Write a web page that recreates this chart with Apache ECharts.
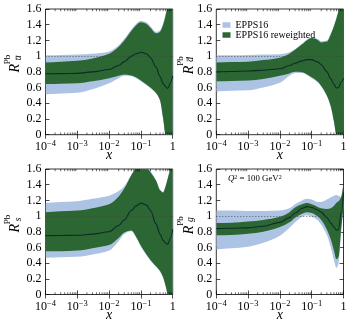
<!DOCTYPE html>
<html>
<head>
<meta charset="utf-8">
<script src="https://cdn.jsdelivr.net/npm/echarts@6/dist/echarts.min.js"></script>
<style>
  html, body { margin: 0; padding: 0; background: #fff; }
  #chart { width: 353px; height: 325px; }
</style>
</head>
<body>
<div id="chart"></div>
<script>
// x grid (log) shared by every curve
const xs = [1e-4, 3e-4, 1e-3, 3e-3, 0.01, 0.02, 0.03, 0.05, 0.07, 0.1, 0.15, 0.2, 0.3, 0.4, 0.5, 0.6, 0.7, 0.85, 1.0];

// u-bar
const ubarCentral = [0.775, 0.777, 0.78, 0.80, 0.83, 0.88, 0.93, 1.0, 1.03, 1.05, 1.03, 0.98, 0.86, 0.74, 0.65, 0.61, 0.59, 0.66, 0.75];
const ubarRwUp = [0.92, 0.93, 0.94, 0.97, 1.03, 1.12, 1.2, 1.32, 1.39, 1.43, 1.41, 1.36, 1.29, 1.31, 1.40, 1.52, 1.65, 2.0, 2.3];
const ubarRwLo = [0.645, 0.648, 0.655, 0.68, 0.72, 0.75, 0.765, 0.755, 0.73, 0.69, 0.64, 0.6, 0.53, 0.44, 0.21, 0, 0, 0, 0];
const ubarUp = [1.01, 1.015, 1.02, 1.03, 1.06, 1.14, 1.22, 1.34, 1.41, 1.45, 1.43, 1.38, 1.31, 1.33, 1.42, 1.54, 1.67, 2.0, 2.3];
const ubarLo = [0.515, 0.525, 0.535, 0.58, 0.655, 0.72, 0.75, 0.745, 0.72, 0.68, 0.63, 0.59, 0.52, 0.43, 0.2, 0, 0, 0, 0];

// d-bar
const dbarCentral = [0.80, 0.805, 0.81, 0.82, 0.84, 0.88, 0.91, 0.94, 0.955, 0.955, 0.93, 0.89, 0.80, 0.71, 0.64, 0.595, 0.60, 0.67, 0.72];
const dbarRwUp = [0.92, 0.925, 0.93, 0.95, 0.98, 1.03, 1.08, 1.15, 1.2, 1.23, 1.21, 1.175, 1.185, 1.28, 1.38, 1.48, 1.58, 1.8, 2.1];
const dbarRwLo = [0.68, 0.685, 0.69, 0.71, 0.75, 0.78, 0.80, 0.795, 0.77, 0.73, 0.68, 0.62, 0.5, 0.36, 0.17, 0, 0, 0, 0];
const dbarUp = [1.01, 1.012, 1.015, 1.02, 1.025, 1.05, 1.09, 1.16, 1.21, 1.24, 1.22, 1.19, 1.2, 1.29, 1.39, 1.49, 1.59, 1.8, 2.1];
const dbarLo = [0.55, 0.56, 0.565, 0.6, 0.66, 0.75, 0.785, 0.785, 0.76, 0.72, 0.67, 0.61, 0.49, 0.35, 0.16, 0, 0, 0, 0];

// s
const sCentral = [0.75, 0.752, 0.755, 0.77, 0.80, 0.88, 0.95, 1.07, 1.13, 1.165, 1.14, 1.07, 0.90, 0.77, 0.69, 0.655, 0.64, 0.72, 0.83];
const sRwUp = [1.05, 1.06, 1.07, 1.1, 1.15, 1.25, 1.35, 1.52, 1.61, 1.66, 1.62, 1.56, 1.45, 1.33, 1.30, 1.38, 1.48, 1.62, 1.9];
const sRwLo = [0.55, 0.552, 0.56, 0.59, 0.63, 0.72, 0.79, 0.815, 0.74, 0.62, 0.51, 0.44, 0.36, 0.3, 0.22, 0.11, 0.01, 0, 0];
const sUp = [1.17, 1.18, 1.19, 1.22, 1.26, 1.32, 1.38, 1.53, 1.62, 1.67, 1.63, 1.57, 1.46, 1.34, 1.31, 1.39, 1.49, 1.63, 1.9];
const sLo = [0.47, 0.475, 0.48, 0.51, 0.56, 0.68, 0.77, 0.805, 0.73, 0.61, 0.5, 0.43, 0.35, 0.29, 0.21, 0.1, 0, 0, 0];

// g
const gCentral = [0.84, 0.845, 0.85, 0.87, 0.92, 0.98, 1.04, 1.1, 1.12, 1.11, 1.08, 1.05, 0.98, 0.91, 0.86, 0.82, 0.83, 1.05, 1.3];
const gRwUp = [0.91, 0.915, 0.93, 0.95, 0.99, 1.05, 1.11, 1.15, 1.165, 1.15, 1.12, 1.1, 1.09, 1.1, 1.13, 1.17, 1.19, 1.25, 1.42];
const gRwLo = [0.755, 0.76, 0.775, 0.8, 0.86, 0.92, 0.98, 1.03, 1.05, 1.04, 1.0, 0.95, 0.83, 0.7, 0.56, 0.45, 0.48, 0.85, 1.12];
const gUp = [1.07, 1.07, 1.065, 1.065, 1.07, 1.1, 1.15, 1.2, 1.22, 1.21, 1.18, 1.18, 1.21, 1.24, 1.26, 1.27, 1.26, 1.24, 1.2];
const gLo = [0.575, 0.59, 0.61, 0.66, 0.75, 0.85, 0.92, 0.99, 1.01, 0.99, 0.95, 0.89, 0.76, 0.6, 0.44, 0.34, 0.4, 0.8, 1.1];

// axis ticks
const decades = [1e-4, 1e-3, 1e-2, 1e-1];
const minorMults = [2, 3, 4, 5, 6, 7, 8, 9];
const yTicks = { min: 0, max: 1.6, interval: 0.2 };

const serif = '"Liberation Serif", "DejaVu Serif", serif';
const blue = '#adc3e3';
const green = '#2b6633';
const lineCol = '#0f2a2a';

const panels = [
  { c: ubarCentral, gu: ubarRwUp, gl: ubarRwLo, bu: ubarUp, bl: ubarLo },
  { c: dbarCentral, gu: dbarRwUp, gl: dbarRwLo, bu: dbarUp, bl: dbarLo },
  { c: sCentral, gu: sRwUp, gl: sRwLo, bu: sUp, bl: sLo },
  { c: gCentral, gu: gRwUp, gl: gRwLo, bu: gUp, bl: gLo },
];

const grids = [
  { left: 45.5, top: 9, width: 127.2, height: 125.7 },
  { left: 216.3, top: 9, width: 127.2, height: 125.7 },
  { left: 45.5, top: 169, width: 127.2, height: 125.5 },
  { left: 216.3, top: 169, width: 127.2, height: 125.5 },
];

const minorTicks = [];
decades.forEach(d => minorMults.forEach(m => minorTicks.push([d * m, 0])));

function pow10Label(v) {
  const e = Math.round(Math.log10(v));
  if (e === 0) return '{a|1}';
  return '{a|10}{b|' + (e < 0 ? '\u2212' : '') + Math.abs(e) + '}';
}

// monotone cubic (Fritsch-Carlson) through pixel points, as svg path commands
function monoPath(P, start) {
  const n = P.length, dx = [], m = [], t = [];
  for (let i = 0; i < n - 1; i++) {
    dx[i] = P[i + 1][0] - P[i][0];
    m[i] = (P[i + 1][1] - P[i][1]) / dx[i];
  }
  t[0] = m[0];
  t[n - 1] = m[n - 2];
  for (let i = 1; i < n - 1; i++) {
    if (m[i - 1] * m[i] <= 0) t[i] = 0;
    else {
      const w1 = 2 * dx[i] + dx[i - 1], w2 = dx[i] + 2 * dx[i - 1];
      t[i] = (w1 + w2) / (w1 / m[i - 1] + w2 / m[i]);
    }
  }
  let s = start + P[0][0] + ' ' + P[0][1];
  for (let i = 0; i < n - 1; i++) {
    const h = dx[i] / 3;
    s += ' C' + (P[i][0] + h) + ' ' + (P[i][1] + t[i] * h) + ' ' +
      (P[i + 1][0] - h) + ' ' + (P[i + 1][1] - t[i + 1] * h) + ' ' +
      P[i + 1][0] + ' ' + P[i + 1][1];
  }
  return s;
}

function bandSeries(name, color, lo, hi, xa, ya) {
  return {
    type: 'custom', name, xAxisIndex: xa, yAxisIndex: ya, silent: true,
    itemStyle: { color },
    data: xs.map((x, k) => [x, lo[k], hi[k]]),
    encode: { x: 0, y: [1, 2] },
    renderItem(params, api) {
      if (params.dataIndexInside !== 0) return null;
      const n = params.dataInsideLength;
      const up = [], dn = [];
      for (let k = 0; k < n; k++) {
        up.push(api.coord([api.value(0, k), api.value(2, k)]));
        dn.push(api.coord([api.value(0, k), api.value(1, k)]));
      }
      dn.reverse();
      const cs = params.coordSys;
      return {
        type: 'path',
        shape: { pathData: monoPath(up, 'M') + ' ' + monoPath(dn, 'L') + ' Z' },
        style: { fill: color, stroke: null },
        clipPath: { type: 'rect', shape: { x: cs.x, y: cs.y, width: cs.width, height: cs.height } },
      };
    },
  };
}

const tickStyle = { color: '#000', width: 0.7 };
const xAxes = [], yAxes = [], series = [];

grids.forEach((g, i) => {
  xAxes.push({
    type: 'log', logBase: 10, gridIndex: i, min: 1e-4, max: 1,
    axisLine: { show: false },
    axisTick: { inside: true, length: 4, lineStyle: tickStyle },
    splitLine: { show: false },
    axisLabel: {
      margin: 5, showMinLabel: true, showMaxLabel: true,
      formatter: pow10Label,
      rich: {
        a: { fontFamily: serif, fontSize: 12, color: '#000', lineHeight: 14 },
        b: { fontFamily: serif, fontSize: 8.5, color: '#000', lineHeight: 8, verticalAlign: 'top' },
      },
    },
    name: 'x', nameLocation: 'middle', nameGap: 14, nameMoveOverlap: false,
    nameTextStyle: { fontFamily: serif, fontStyle: 'italic', fontSize: 14, color: '#000' },
  });
  xAxes.push({
    type: 'log', logBase: 10, gridIndex: i, min: 1e-4, max: 1, position: 'top',
    axisLine: { show: false },
    axisTick: { inside: true, length: 4, lineStyle: tickStyle },
    splitLine: { show: false },
    axisLabel: { show: false },
  });
  yAxes.push({
    type: 'value', gridIndex: i, min: yTicks.min, max: yTicks.max, interval: yTicks.interval,
    axisLine: { show: false },
    axisTick: { inside: true, length: 4, lineStyle: tickStyle },
    splitLine: { show: false },
    axisLabel: { margin: 4, fontFamily: serif, fontSize: 12, color: '#000', showMinLabel: true, showMaxLabel: true },
  });
  yAxes.push({
    type: 'value', gridIndex: i, min: yTicks.min, max: yTicks.max, interval: yTicks.interval, position: 'right',
    axisLine: { show: false },
    axisTick: { inside: true, length: 4, lineStyle: tickStyle },
    splitLine: { show: false },
    axisLabel: { show: false },
  });

  const p = panels[i];
  const xa = 2 * i, ya = 2 * i;
  series.push(bandSeries('EPPS16', blue, p.bl, p.bu, xa, ya));
  series.push(bandSeries('EPPS16 reweighted', green, p.gl, p.gu, xa, ya));
  series.push({
    type: 'line', xAxisIndex: xa, yAxisIndex: ya, symbol: 'none', silent: true,
    smooth: 0.35, smoothMonotone: 'x',
    data: xs.map((x, k) => [x, p.c[k]]),
    lineStyle: { width: 1.1, color: lineCol }, itemStyle: { color: lineCol },
    markLine: {
      silent: true, symbol: ['none', 'none'], label: { show: false },
      lineStyle: { color: '#444', width: 0.8, type: [1, 2] },
      data: [{ yAxis: 1 }],
    },
  });
  // minor log ticks on bottom and top edges
  series.push({
    type: 'custom', xAxisIndex: xa, yAxisIndex: ya, silent: true, z: 5,
    data: minorTicks, encode: { x: 0, y: 1 },
    renderItem(params, api) {
      const v = api.value(0);
      const b = api.coord([v, yTicks.min]);
      const t = api.coord([v, yTicks.max]);
      const st = { stroke: '#000', lineWidth: 0.6 };
      return {
        type: 'group', children: [
          { type: 'line', shape: { x1: b[0], y1: b[1], x2: b[0], y2: b[1] - 2.2 }, style: st },
          { type: 'line', shape: { x1: t[0], y1: t[1], x2: t[0], y2: t[1] + 2.2 }, style: st },
        ],
      };
    },
  });
});

// y-axis names R^{Pb}_{q}
const yNames = [
  { r: [15, 68.3], sup: [7.5, 59.5], sub: [18.7, 57.8], subText: 'u', bar: [16.1, 55.6, 59.8] },
  { r: [189, 70], sup: [180.5, 61], sub: [190.7, 59.3], subText: 'd', bar: [187.2, 57.2, 61.4] },
  { r: [15, 228.3], sup: [7.5, 219.5], sub: [18.5, 219.4], subText: 's', bar: null },
  { r: [189, 230], sup: [180.5, 221], sub: [190.7, 219.5], subText: 'g', bar: null },
];
const graphic = [];
const txt = (pos, text, font) => ({
  type: 'text', x: pos[0], y: pos[1], rotation: Math.PI / 2, silent: true,
  style: { text, font, fill: '#000', align: 'center', verticalAlign: 'middle', textAlign: 'center', textVerticalAlign: 'middle' },
});
yNames.forEach(n => {
  graphic.push(txt(n.r, 'R', 'italic 14px ' + serif));
  graphic.push(txt(n.sup, 'Pb', '9px ' + serif));
  graphic.push(txt(n.sub, n.subText, 'italic 9.5px ' + serif));
  if (n.bar) {
    graphic.push({
      type: 'line', silent: true,
      shape: { x1: n.bar[0], y1: n.bar[1], x2: n.bar[0], y2: n.bar[2] },
      style: { stroke: '#000', lineWidth: 0.6 },
    });
  }
});
graphic.push({
  type: 'text', x: 228, y: 179, silent: true,
  style: {
    text: '{i|Q}{s|2}{n| = 100 GeV}{s|2}',
    verticalAlign: 'middle', textVerticalAlign: 'middle',
    rich: {
      i: { fontFamily: serif, fontStyle: 'italic', fontSize: 8.8, lineHeight: 10, fill: '#000' },
      n: { fontFamily: serif, fontSize: 8.8, lineHeight: 10, fill: '#000' },
      s: { fontFamily: serif, fontSize: 6, lineHeight: 6, verticalAlign: 'top', fill: '#000' },
    },
  },
});

const chart = echarts.init(document.getElementById('chart'), null, { renderer: 'canvas' });
chart.setOption({
  animation: false,
  backgroundColor: '#fff',
  grid: grids.map(g => Object.assign({ show: true, borderColor: '#000', borderWidth: 0.8, backgroundColor: 'transparent', containLabel: false, outerBoundsMode: 'none' }, g)),
  xAxis: xAxes,
  yAxis: yAxes,
  legend: {
    data: ['EPPS16', 'EPPS16 reweighted'],
    orient: 'vertical', left: 217.5, top: 15, icon: 'rect',
    itemWidth: 8, itemHeight: 5.5, itemGap: 0, selectedMode: false,
    textStyle: { fontFamily: serif, fontSize: 10, color: '#000', lineHeight: 7 },
  },
  graphic,
  series,
});
</script>
</body>
</html>
